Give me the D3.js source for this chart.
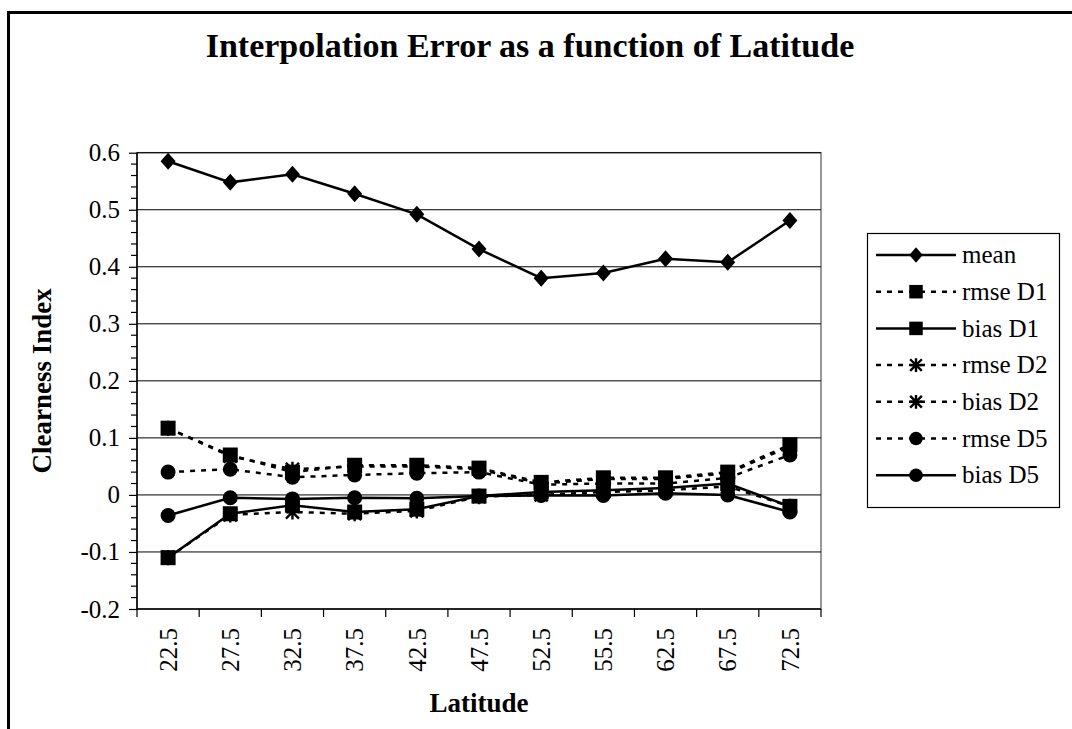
<!DOCTYPE html>
<html><head><meta charset="utf-8">
<script src="https://cdn.jsdelivr.net/npm/d3@7"></script>
<style>html,body{margin:0;padding:0;background:#fff;} svg{display:block;} text{font-family:"Liberation Serif","Times New Roman",serif;fill:#000;}</style>
</head><body><svg id="c" width="1072" height="729"></svg>
<script>
const categories = ["22.5","27.5","32.5","37.5","42.5","47.5","52.5","55.5","62.5","67.5","72.5"];
const mean    = [0.585,0.548,0.562,0.528,0.492,0.431,0.380,0.389,0.414,0.408,0.481];
const rmseD1  = [0.117,0.070,0.040,0.052,0.052,0.047,0.022,0.030,0.030,0.040,0.088];
const biasD1  = [-0.110,-0.033,-0.018,-0.030,-0.025,-0.002,0.005,0.008,0.012,0.020,-0.020];
const rmseD2  = [0.117,0.068,0.045,0.050,0.050,0.045,0.020,0.028,0.028,0.038,0.085];
const biasD2  = [-0.110,-0.035,-0.030,-0.033,-0.028,-0.003,0.000,0.005,0.008,0.015,-0.020];
const rmseD5  = [0.040,0.045,0.031,0.035,0.038,0.040,0.018,0.020,0.020,0.030,0.070];
const biasD5  = [-0.036,-0.005,-0.007,-0.005,-0.006,-0.002,-0.001,-0.001,0.003,0.000,-0.030];
const yTicks  = [-0.2,-0.1,0,0.1,0.2,0.3,0.4,0.5,0.6];
const yTickLabels = ["-0.2","-0.1","0","0.1","0.2","0.3","0.4","0.5","0.6"];
const seriesNames = ["mean","rmse D1","bias D1","rmse D2","bias D2","rmse D5","bias D5"];
const seriesValues = [mean,rmseD1,biasD1,rmseD2,biasD2,rmseD5,biasD5];
const seriesMarkers = ["diamond","square","square","star","star","circle","circle"];
const seriesDashed = [false,true,false,true,true,true,false];

const svg = d3.select("#c");
const L=137, R=821, T=152.7, B=609;
const x = d3.scaleBand().domain(categories).range([L,R]);
const y = d3.scaleLinear().domain([-0.2,0.6]).range([B,T]);

// outer frame
svg.append("path").attr("d","M8.5,740 L8.5,12.5 L1080,12.5").attr("fill","none").attr("stroke","#000").attr("stroke-width",3);

// title
svg.append("text").attr("x",530).attr("y",57).attr("text-anchor","middle")
  .style("font-weight","bold").style("font-size","34px").text("Interpolation Error as a function of Latitude");

// plot area border
svg.append("rect").attr("x",L).attr("y",T).attr("width",R-L).attr("height",B-T)
  .attr("fill","none").attr("stroke","#777").attr("stroke-width",1.5);
// gridlines
svg.append("g").selectAll("line").data(yTicks.filter(d=>d>-0.2)).join("line")
  .attr("x1",L).attr("x2",R).attr("y1",d=>y(d)).attr("y2",d=>y(d))
  .attr("stroke","#000").attr("stroke-width",1);

// y axis
const yAxis = d3.axisLeft(y).tickValues(yTicks).tickFormat((d,i)=>yTickLabels[i]).tickSize(8).tickPadding(9);
const ya = svg.append("g").attr("transform",`translate(${L},0)`).call(yAxis);
ya.attr("font-family",null);
ya.select(".domain").attr("stroke","#000").attr("stroke-width",1.5).attr("d",`M0,${T}V${B}`);
ya.selectAll(".tick line").attr("stroke","#000").attr("stroke-width",1.2);
ya.selectAll(".tick text").style("font-size","25px").style("font-family","'Liberation Serif',serif").attr("fill","#000");
// minor ticks
const minor = d3.range(-0.2,0.6001,0.02).filter(v=>Math.abs(Math.round(v*10)-v*10)>1e-6);
svg.append("g").selectAll("line").data(minor).join("line")
  .attr("x1",L-6).attr("x2",L).attr("y1",d=>y(d)).attr("y2",d=>y(d)).attr("stroke","#000").attr("stroke-width",1.2);

// x axis
const xa = svg.append("g").attr("transform",`translate(0,${B})`);
xa.append("line").attr("x1",L).attr("x2",R).attr("stroke","#000").attr("stroke-width",1.5);
const bounds = categories.map(c=>x(c)).concat([R]);
xa.selectAll("line.tk").data(bounds).join("line").attr("class","tk")
  .attr("x1",d=>d).attr("x2",d=>d).attr("y1",0).attr("y2",8).attr("stroke","#000").attr("stroke-width",1.2);
xa.selectAll("text").data(categories).join("text")
  .attr("transform",d=>`translate(${x(d)+x.bandwidth()/2},19) rotate(-90)`)
  .attr("dy","0.35em").attr("text-anchor","end").style("font-size","25px").text(d=>d);

// axis titles
svg.append("text").attr("transform",`translate(42,${(T+B)/2}) rotate(-90)`).attr("dy","0.35em")
  .attr("text-anchor","middle").style("font-weight","bold").style("font-size","27px").text("Clearness Index");
svg.append("text").attr("x",(L+R)/2).attr("y",712).attr("text-anchor","middle")
  .style("font-weight","bold").style("font-size","27px").text("Latitude");

// markers
function marker(g, type, cx, cy, s){
  const sc = s||1;
  if(type==="diamond"){
    g.append("path").attr("d",`M${cx},${cy-8.5*sc}L${cx+7.5*sc},${cy}L${cx},${cy+8.5*sc}L${cx-7.5*sc},${cy}Z`).attr("fill","#000");
  } else if(type==="square"){
    const h=7.5*sc; g.append("rect").attr("x",cx-h).attr("y",cy-h).attr("width",2*h).attr("height",2*h).attr("fill","#000");
  } else if(type==="circle"){
    g.append("circle").attr("cx",cx).attr("cy",cy).attr("r",7.5*sc).attr("fill","#000");
  } else if(type==="star"){
    const h=6.5*sc;
    g.append("path").attr("d",`M${cx-h},${cy-h}L${cx+h},${cy+h}M${cx-h},${cy+h}L${cx+h},${cy-h}M${cx},${cy-h-1}L${cx},${cy+h+1}M${cx-h},${cy}L${cx+h},${cy}`)
      .attr("stroke","#000").attr("stroke-width",2.4).attr("fill","none");
  }
}

const line = d3.line().x((d,i)=>x(categories[i])+x.bandwidth()/2).y(d=>y(d));
const plot = svg.append("g");
seriesValues.forEach((vals,si)=>{
  const g = plot.append("g");
  g.append("path").attr("d",line(vals)).attr("fill","none").attr("stroke","#000").attr("stroke-width",2.5)
    .attr("stroke-dasharray",seriesDashed[si]?"5,6":null);
  vals.forEach((v,i)=>marker(g, seriesMarkers[si], x(categories[i])+x.bandwidth()/2, y(v)));
});

// legend
const lg = svg.append("g");
lg.append("rect").attr("x",867.5).attr("y",233.5).attr("width",192).attr("height",274).attr("fill","#fff").attr("stroke","#000").attr("stroke-width",1.2);
seriesNames.forEach((n,i)=>{
  const cy = 255 + i*36.7;
  const g = lg.append("g");
  g.append("line").attr("x1",876).attr("x2",956).attr("y1",cy).attr("y2",cy).attr("stroke","#000").attr("stroke-width",2.5)
    .attr("stroke-dasharray",seriesDashed[i]?"5,6":null);
  marker(g, seriesMarkers[i], 916, cy, 0.9);
  g.append("text").attr("x",962).attr("y",cy).attr("dy","0.33em").style("font-size","25px").text(n);
});
</script></body></html>
